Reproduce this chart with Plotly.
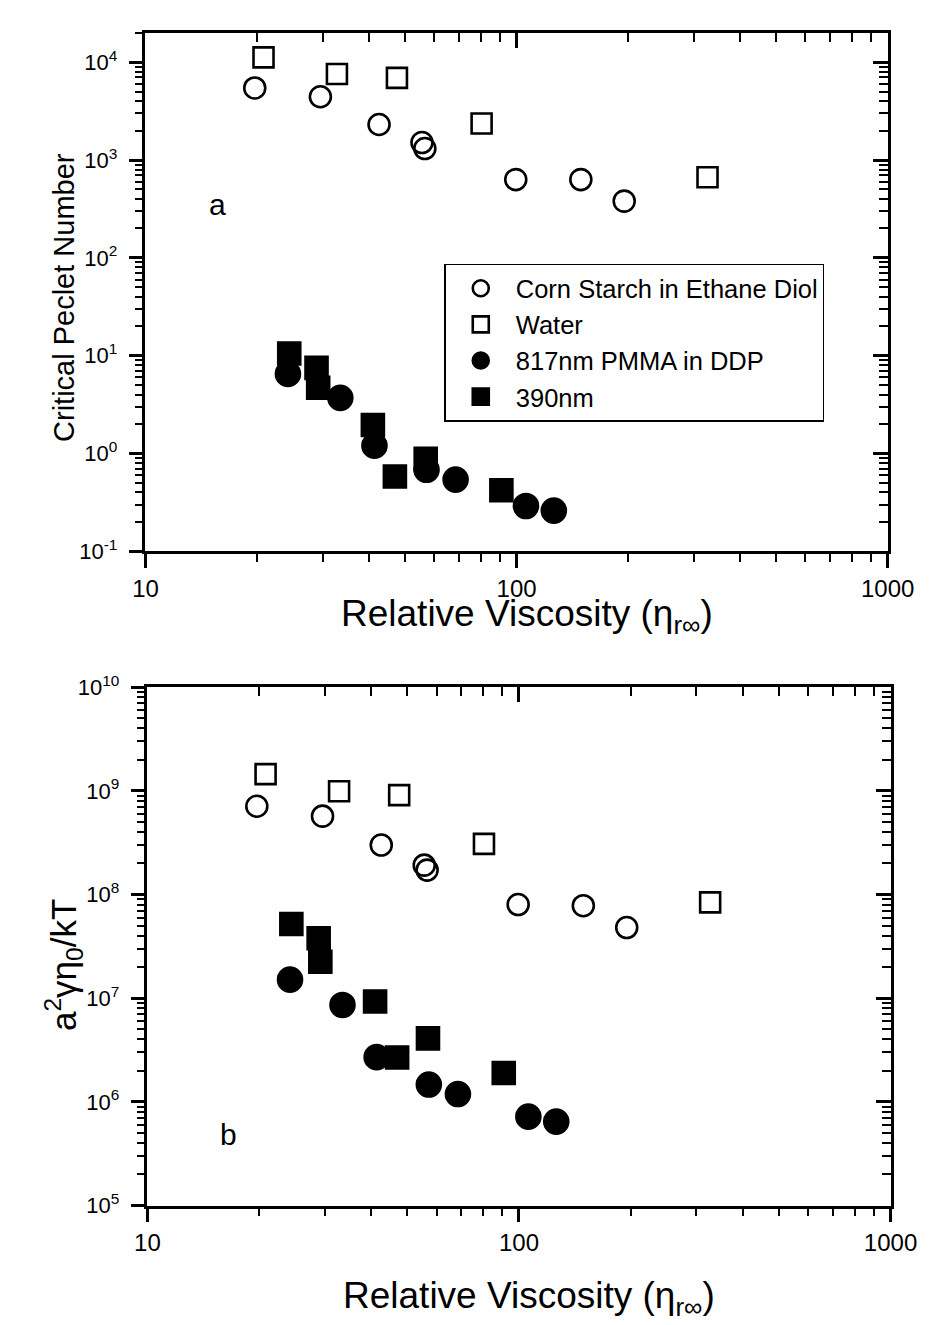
import plotly.graph_objects as go

# ---------------- data ----------------
cs_visc = [19.7, 29.6, 42.6, 55.6, 56.6, 99.5, 149, 195]
cs_pe = [5460, 4440, 2310, 1510, 1310, 631, 631, 380]
cs_shear = [7.1e8, 5.7e8, 3.0e8, 1.92e8, 1.72e8, 8.0e7, 7.8e7, 4.8e7]

water_visc = [20.8, 32.8, 47.6, 80.5, 327]
water_pe = [11200, 7590, 6920, 2360, 666]
water_shear = [1.45e9, 9.9e8, 9.1e8, 3.08e8, 8.4e7]

pmma817_visc = [24.2, 33.5, 41.4, 57.2, 68.5, 106, 126]
pmma817_pe = [6.5, 3.7, 1.2, 0.68, 0.54, 0.29, 0.26]
pmma817_shear = [1.51e7, 8.6e6, 2.7e6, 1.47e6, 1.19e6, 7.2e5, 6.45e5]

pmma390_visc = [24.4, 28.9, 29.2, 41, 47, 56.9, 91]
pmma390_pe = [10.5, 7.5, 4.7, 1.95, 0.58, 0.88, 0.42]
pmma390_shear = [5.2e7, 3.79e7, 2.25e7, 9.3e6, 2.68e6, 4.1e6, 1.9e6]

names = ["Corn Starch in Ethane Diol", "Water", "817nm PMMA in DDP", "390nm"]

x_tickvals = [10, 100, 1000]
x_ticktext = ["10", "100", "1000"]

# ---------------- figure ----------------
W, H = 944, 1325
FONT = "Liberation Sans, Arial, sans-serif"

def px_x(p):
    return p / W

def px_y(p):
    return 1 - p / H

fig = go.Figure()

series = [
    (cs_visc, cs_pe, cs_shear, "circle-open", 21, names[0]),
    (water_visc, water_pe, water_shear, "square-open", 20, names[1]),
    (pmma817_visc, pmma817_pe, pmma817_shear, "circle", 24, names[2]),
    (pmma390_visc, pmma390_pe, pmma390_shear, "square", 22, names[3]),
]

for i, (xv, ya, yb, sym, sz, nm) in enumerate(series):
    mk = dict(symbol=sym, size=sz, color="black",
              line=dict(color="black", width=2.6))
    fig.add_trace(go.Scatter(x=xv, y=ya, mode="markers", marker=mk, name=nm,
                             xaxis="x", yaxis="y"))
    fig.add_trace(go.Scatter(x=xv, y=yb, mode="markers", marker=mk, name=nm,
                             showlegend=False, xaxis="x2", yaxis="y2"))

# dummy traces so the mirrored inside-tick axes get drawn
fig.add_trace(go.Scatter(x=[None], y=[None], xaxis="x3", yaxis="y3",
                         showlegend=False, hoverinfo="skip"))
fig.add_trace(go.Scatter(x=[None], y=[None], xaxis="x4", yaxis="y4",
                         showlegend=False, hoverinfo="skip"))

def minor_vals(lo, hi):
    return [m * 10 ** e for e in range(lo, hi) for m in range(2, 10)]

xtickfont = dict(family=FONT, size=24, color="black")
ytickfont = dict(family=FONT, size=22, color="black")

def xaxis_main(domain, anchor):
    return dict(type="log", range=[1, 3], domain=domain, anchor=anchor,
                tickmode="array", tickvals=x_tickvals, ticktext=x_ticktext,
                ticks="outside", ticklen=14, tickwidth=2.5, tickcolor="black",
                minor=dict(tickmode="array", tickvals=minor_vals(1, 3),
                           ticks="outside", ticklen=8, tickwidth=2,
                           tickcolor="black", showgrid=False),
                showline=True, linecolor="black", linewidth=2.5, mirror=True,
                showgrid=False, zeroline=False, tickfont=xtickfont)

def xaxis_over(domain, over, anchor):
    d = xaxis_main(domain, anchor)
    d.update(overlaying=over, side="top", ticks="inside", showticklabels=False,
             showline=False)
    d["minor"]["ticks"] = "inside"
    d["ticklen"] = 15
    d["minor"]["ticklen"] = 9
    return d

def yaxis_main(domain, anchor, lo, hi, top):
    return dict(type="log", range=[lo, top], domain=domain, anchor=anchor,
                tickmode="array", tickvals=[10 ** e for e in range(lo, hi + 1)],
                ticktext=["10<sup>%d</sup>" % e for e in range(lo, hi + 1)],
                ticks="outside", ticklen=14, tickwidth=2.5, tickcolor="black",
                ticklabelstandoff=7,
                minor=dict(tickmode="array", tickvals=minor_vals(lo, hi + 1),
                           ticks="outside", ticklen=8, tickwidth=2,
                           tickcolor="black", showgrid=False),
                showline=True, linecolor="black", linewidth=2.5, mirror=True,
                showgrid=False, zeroline=False, tickfont=ytickfont)

def yaxis_over(domain, over, anchor, lo, hi, top):
    d = yaxis_main(domain, anchor, lo, hi, top)
    d.update(overlaying=over, side="right", ticks="inside",
             showticklabels=False, showline=False)
    d["minor"]["ticks"] = "inside"
    d["ticklen"] = 15
    d["minor"]["ticklen"] = 9
    return d

xa_dom = [px_x(130), px_x(905)]
xb_dom = [px_x(132), px_x(908)]
ya_dom = [px_y(539), px_y(9)]
yb_dom = [px_y(1208), px_y(678)]

ya_top = 4.301
yb_top = 10

fig.update_layout(
    width=W, height=H,
    margin=dict(l=0, r=0, t=0, b=0),
    paper_bgcolor="white", plot_bgcolor="white",
    font=dict(family=FONT, color="black"),
    xaxis=xaxis_main(xa_dom, "y"),
    yaxis=yaxis_main(ya_dom, "x", -1, 4, ya_top),
    xaxis2=xaxis_main(xb_dom, "y2"),
    yaxis2=yaxis_main(yb_dom, "x2", 5, 10, yb_top),
    xaxis3=xaxis_over(xa_dom, "x", "y"),
    yaxis3=yaxis_over(ya_dom, "y", "x", -1, 4, ya_top),
    xaxis4=xaxis_over(xb_dom, "x2", "y2"),
    yaxis4=yaxis_over(yb_dom, "y2", "x2", 5, 10, yb_top),
    legend=dict(x=px_x(442), y=px_y(245), xanchor="left", yanchor="top",
                bgcolor="white", bordercolor="black", borderwidth=1.5,
                font=dict(family=FONT, size=25.5, color="black"),
                tracegroupgap=0, itemwidth=60),
    showlegend=True,
)

ann = [
    dict(text="Relative Viscosity (η<sub>r∞</sub>)", x=px_x(528), y=px_y(605), size=37),
    dict(text="Relative Viscosity (η<sub>r∞</sub>)", x=px_x(530), y=px_y(1302), size=37),
    dict(text="Critical Peclet Number", x=px_x(45), y=px_y(280), textangle=-90, size=29),
    dict(text="a<sup>2</sup>γη<sub>0</sub>/kT", x=px_x(45), y=px_y(962), textangle=-90, size=35),
    dict(text="a", x=px_x(205), y=px_y(185), size=30),
    dict(text="b", x=px_x(217), y=px_y(1135), size=30),
]
for a in ann:
    sz = a.pop("size")
    a.update(xref="paper", yref="paper", showarrow=False,
             font=dict(family=FONT, size=sz, color="black"),
             xanchor="center", yanchor="middle")
    fig.add_annotation(**a)

fig.write_html("out.html")
